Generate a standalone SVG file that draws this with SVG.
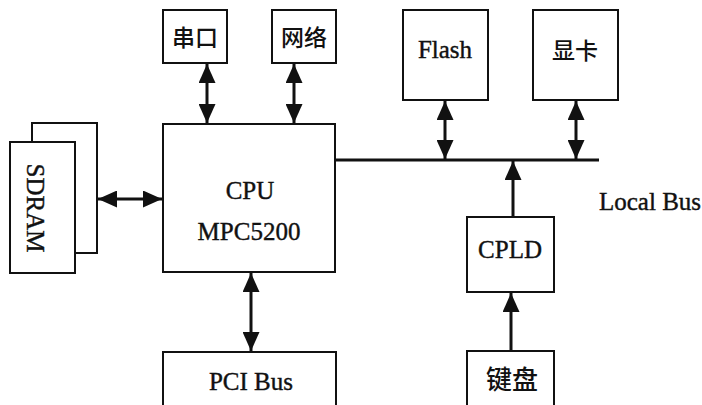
<svg xmlns="http://www.w3.org/2000/svg" width="702" height="405" viewBox="0 0 702 405">
<style>
.box{fill:#fff;stroke:#111;stroke-width:2}
.ln{stroke:#111;stroke-width:3;fill:none}
.t{font-family:"Liberation Serif","Times New Roman",serif;font-size:25px;fill:#111;stroke:#111;stroke-width:0.4;text-anchor:middle}
.c{font-family:"Noto Sans CJK SC","Noto Sans",sans-serif;font-size:23px;font-weight:500;fill:#111;text-anchor:middle}
</style>
<defs>
<marker id="ah" markerUnits="userSpaceOnUse" markerWidth="19" markerHeight="17" refX="19" refY="8.5" orient="auto-start-reverse" viewBox="0 0 19 17">
<path d="M0,0 L19,8.5 L0,17 z" fill="#111"/>
</marker>
</defs>
<rect x="0" y="0" width="702" height="405" fill="#fff"/>
<g id="sdram">
<rect class="box" x="32" y="123" width="65" height="130"/>
<rect class="box" x="10" y="142" width="65" height="131"/>
<text class="t" transform="translate(27,208) rotate(90)">SDRAM</text>
</g>
<g id="cpu">
<rect class="box" x="163" y="124" width="172" height="148"/>
<text class="t" x="250" y="199">CPU</text>
<text class="t" x="249" y="240">MPC5200</text>
</g>
<g id="serial">
<rect class="box" x="163" y="10" width="64" height="53"/>
<text class="c" x="195" y="46">串口</text>
</g>
<g id="network">
<rect class="box" x="272" y="10" width="64" height="53"/>
<text class="c" x="304" y="46">网络</text>
</g>
<g id="flash">
<rect class="box" x="403" y="10" width="85" height="90"/>
<text class="t" x="445" y="58">Flash</text>
</g>
<g id="vga">
<rect class="box" x="533" y="10" width="85" height="90"/>
<text class="c" x="575" y="59">显卡</text>
</g>
<g id="cpld">
<rect class="box" x="467" y="217" width="87" height="75"/>
<text class="t" x="510" y="258">CPLD</text>
</g>
<g id="keyboard">
<rect class="box" x="467" y="351" width="87" height="60"/>
<text class="c" x="512" y="389" style="font-size:26px">键盘</text>
</g>
<g id="pci">
<rect class="box" x="163" y="352" width="173" height="60"/>
<text class="t" x="251" y="390">PCI Bus</text>
</g>
<g id="localbus">
<text class="t" x="599" y="210" style="text-anchor:start">Local Bus</text>
</g>
<g id="connectors">
<line class="ln" x1="335" y1="160" x2="599" y2="160"/>
<line class="ln" x1="98" y1="199" x2="162" y2="199" marker-start="url(#ah)" marker-end="url(#ah)"/>
<line class="ln" x1="207" y1="64" x2="207" y2="123" marker-start="url(#ah)" marker-end="url(#ah)"/>
<line class="ln" x1="294" y1="64" x2="294" y2="123" marker-start="url(#ah)" marker-end="url(#ah)"/>
<line class="ln" x1="445" y1="101" x2="445" y2="159" marker-start="url(#ah)" marker-end="url(#ah)"/>
<line class="ln" x1="576" y1="101" x2="576" y2="159" marker-start="url(#ah)" marker-end="url(#ah)"/>
<line class="ln" x1="251" y1="273" x2="251" y2="351" marker-start="url(#ah)" marker-end="url(#ah)"/>
<line class="ln" x1="513" y1="216" x2="513" y2="161" marker-end="url(#ah)"/>
<line class="ln" x1="511" y1="350" x2="511" y2="293" marker-end="url(#ah)"/>
</g>
</svg>
